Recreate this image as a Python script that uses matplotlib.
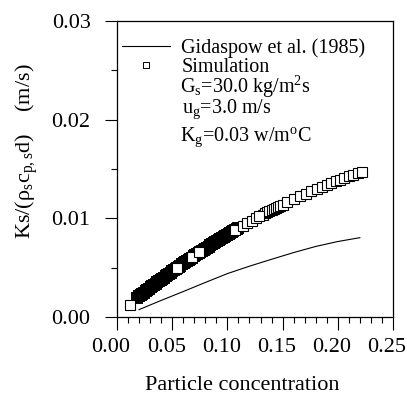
import matplotlib
matplotlib.use("Agg")
import matplotlib.pyplot as plt
from matplotlib.ticker import MultipleLocator, FormatStrFormatter
from matplotlib.lines import Line2D
from matplotlib.transforms import ScaledTranslation

plt.rcParams['font.family'] = ['Liberation Serif', 'DejaVu Serif']
plt.rcParams['mathtext.fontset'] = 'custom'
plt.rcParams['mathtext.rm'] = 'Liberation Serif'
plt.rcParams['mathtext.it'] = 'Liberation Serif:italic'
plt.rcParams['mathtext.bf'] = 'Liberation Serif:bold'

# Gidaspow et al. (1985) correlation
gid_x = [0.020, 0.040, 0.060, 0.080, 0.100, 0.120, 0.140, 0.160, 0.180, 0.200, 0.220]
gid_y = [0.00075, 0.00168, 0.00258, 0.00350, 0.00440, 0.00515, 0.00585, 0.00653, 0.00715, 0.00765, 0.00804]

# Simulation (dense band, overlapping outlines)
sim_x = [0.0180,
         0.0200, 0.0215, 0.0230, 0.0245, 0.0260, 0.0275, 0.0290, 0.0305, 0.0320, 0.0335,
         0.0350, 0.0365, 0.0380, 0.0395, 0.0410, 0.0425, 0.0440, 0.0455, 0.0470, 0.0485,
         0.0500, 0.0515, 0.0530, 0.0545, 0.0560, 0.0575, 0.0590, 0.0605, 0.0620, 0.0635,
         0.0650, 0.0665, 0.0680, 0.0695, 0.0710, 0.0725, 0.0740, 0.0755, 0.0770, 0.0785,
         0.0800, 0.0815, 0.0830, 0.0845, 0.0860, 0.0875, 0.0890, 0.0905, 0.0920, 0.0935,
         0.0950, 0.0965, 0.0980, 0.0995, 0.1010, 0.1025, 0.1040, 0.1055, 0.1070, 0.1085,
         0.1100]
sim_y = [0.00190,
         0.00208, 0.00221, 0.00234, 0.00247, 0.00260, 0.00273, 0.00286, 0.00299, 0.00312, 0.00325,
         0.00338, 0.00350, 0.00363, 0.00375, 0.00388, 0.00400, 0.00413, 0.00425, 0.00437, 0.00449,
         0.00462, 0.00474, 0.00486, 0.00498, 0.00510, 0.00521, 0.00533, 0.00545, 0.00557, 0.00568,
         0.00580, 0.00591, 0.00603, 0.00614, 0.00625, 0.00637, 0.00648, 0.00659, 0.00670, 0.00681,
         0.00692, 0.00703, 0.00714, 0.00725, 0.00736, 0.00746, 0.00757, 0.00767, 0.00778, 0.00788,
         0.00799, 0.00809, 0.00819, 0.00830, 0.00840, 0.00850, 0.00860, 0.00870, 0.00880, 0.00890,
         0.00900]

# Simulation (moderately dense cluster)
sim3_x = [0.1320, 0.1340, 0.1360, 0.1380, 0.1400, 0.1420, 0.1440, 0.1460, 0.1480, 0.1500]
sim3_y = [0.01037, 0.01049, 0.01061, 0.01073, 0.01084, 0.01096, 0.01107, 0.01118, 0.01129, 0.01140]

# Simulation (sparser points, drawn on top with white faces)
sim2_x = [0.0120, 0.0540, 0.0680, 0.0740, 0.1070,
          0.1140, 0.1180, 0.1220, 0.1260, 0.1290, 0.1540, 0.1600, 0.1660, 0.1710, 0.1760,
          0.1810, 0.1860, 0.1900, 0.1940, 0.1980, 0.2020, 0.2060, 0.2100, 0.2140, 0.2180,
          0.2220]
sim2_y = [0.00120, 0.00500, 0.00610, 0.00660, 0.00880,
          0.00926, 0.00951, 0.00976, 0.01001, 0.01019, 0.01162, 0.01194, 0.01225, 0.01250, 0.01275,
          0.01299, 0.01322, 0.01340, 0.01358, 0.01375, 0.01392, 0.01408, 0.01424, 0.01440, 0.01455,
          0.01470]

fig = plt.figure(figsize=(4.07, 3.97), dpi=100)
ax = fig.add_axes([117/407, 1-317/397, 276/407, 296/397])

ax.plot(gid_x, gid_y, color='black', lw=0.8)
ax.plot(sim_x, sim_y, linestyle='none', marker='s', ms=6.5, mfc='none', mec='black', mew=1.4)
ax.plot(sim3_x, sim3_y, linestyle='none', marker='s', ms=6.5, mfc='white', mec='black', mew=0.8)
ax.plot(sim2_x, sim2_y, linestyle='none', marker='s', ms=6.5, mfc='white', mec='black', mew=0.8)

ax.set_xlim(0, 0.25)
ax.set_ylim(0, 0.03)
ax.xaxis.set_major_locator(MultipleLocator(0.05))
ax.xaxis.set_minor_locator(MultipleLocator(0.01))
ax.yaxis.set_major_locator(MultipleLocator(0.01))
ax.yaxis.set_minor_locator(MultipleLocator(0.005))
ax.xaxis.set_major_formatter(FormatStrFormatter('%.2f'))
ax.yaxis.set_major_formatter(FormatStrFormatter('%.2f'))
ax.tick_params(which='both', direction='out', top=False, right=False, width=0.8, labelsize=16)
ax.tick_params(axis='y', which='major', length=9, pad=10)
ax.tick_params(axis='x', which='major', length=9, pad=6)
ax.tick_params(which='minor', length=4.5)
for s in ax.spines.values():
    s.set_linewidth(0.9)

shift = ScaledTranslation(-6/100, 0, fig.dpi_scale_trans)
for lab in ax.get_xticklabels():
    lab.set_transform(lab.get_transform() + shift)

ax.set_xlabel('Particle concentration', fontsize=16)
ax.xaxis.set_label_coords(0.453, -0.20)
ax.set_ylabel('Ks/(ρ$_\\mathrm{s}$c$_\\mathrm{p,s}$d)    (m/s)', fontsize=16)
ax.yaxis.set_label_coords(-0.278, 0.560)

handles = [Line2D([], [], color='black', lw=0.8),
           Line2D([], [], linestyle='none', marker='s', ms=5, mfc='white', mec='black', mew=0.7)]
leg = ax.legend(handles, ['Gidaspow et al. (1985)', 'Simulation'], loc='upper left',
                bbox_to_anchor=(0.0, 1 - 12/296), frameon=False, fontsize=14.5,
                handlelength=2.4, handletextpad=0.55, labelspacing=0.0,
                borderaxespad=0.0, borderpad=0.25)

tx = (180-117)/276
ax.text(tx, (317-93)/296, 'G$_\\mathrm{s}$=30.0 kg/m$^\\mathrm{2}$s', transform=ax.transAxes,
        fontsize=14.5, va='baseline', ha='left')
ax.text(tx + 0.007, (317-113)/296, 'u$_\\mathrm{g}$=3.0 m/s', transform=ax.transAxes,
        fontsize=14.5, va='baseline', ha='left')
ax.text(tx, (317-141)/296, 'K$_\\mathrm{g}$=0.03 w/m$^\\mathrm{o}$C', transform=ax.transAxes,
        fontsize=14.5, va='baseline', ha='left')

fig.savefig('out.png', dpi=100)
